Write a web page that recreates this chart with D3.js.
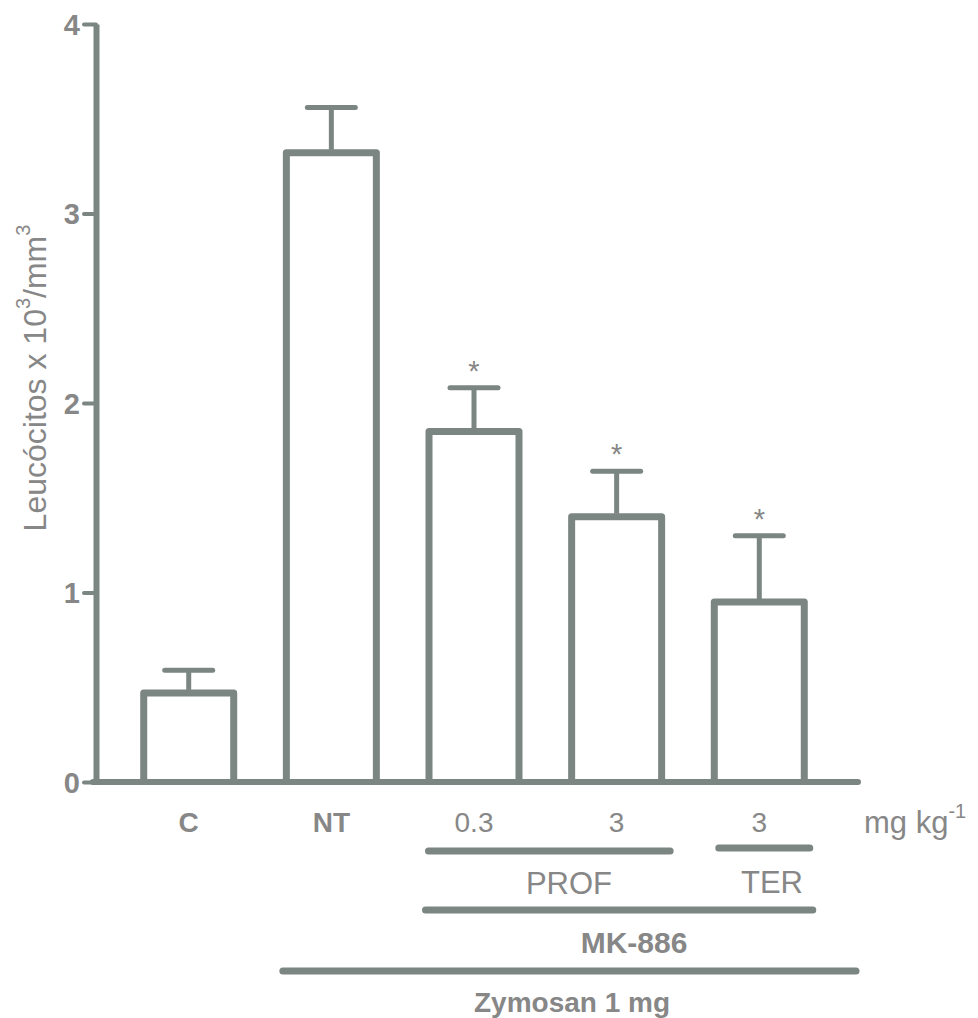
<!DOCTYPE html>
<html>
<head>
<meta charset="utf-8">
<script src="https://cdn.jsdelivr.net/npm/d3@7"></script>
<style>
  html, body { margin: 0; padding: 0; background: #fff; }
  svg { display: block; }
  text { font-family: "Liberation Sans", Arial, sans-serif; fill: #878787; }
</style>
</head>
<body>
<div id="chart"></div>
<script>
// ---- data ----
const categories = ["C", "NT", "PROF 0.3", "PROF 3", "TER 3"];
const tickLabels = ["C", "NT", "0.3", "3", "3"];
const tickBold = [true, true, false, false, false];
const means = [0.47, 3.32, 1.85, 1.40, 0.95];
const sem = [0.12, 0.24, 0.23, 0.24, 0.35];
const significant = [false, false, true, true, true];
const yTicks = [0, 1, 2, 3, 4];
const groupLabels = ["PROF", "TER", "MK-886", "Zymosan 1 mg"];
const groupFrom = ["PROF 0.3", "TER 3", "PROF 0.3", "NT"];
const groupTo = ["PROF 3", "TER 3", "TER 3", "TER 3"];

// ---- layout ----
const W = 978, H = 1018;
const LINE = "#7b8683";
const TEXT = "#878787";

const svg = d3.select("#chart").append("svg").attr("width", W).attr("height", H);

const x = d3.scaleBand().domain(categories).range([96, 852]).paddingInner(0.32).paddingOuter(0.31);
const y = d3.scaleLinear().domain([0, 4]).range([782, 24]);

// y axis
const yAxis = d3.axisLeft(y).tickValues(yTicks).tickSize(12).tickSizeOuter(0).tickPadding(4).tickFormat(d3.format("d"));
const gy = svg.append("g").attr("transform", "translate(96,0)").call(yAxis);
gy.select(".domain").attr("stroke", LINE).attr("stroke-width", 6);
gy.selectAll(".tick line").attr("stroke", LINE).attr("stroke-width", 4).attr("stroke-linecap", "round");
gy.selectAll(".tick text")
  .attr("fill", TEXT).style("font-size", "29px").style("font-weight", "bold")
  .attr("dy", "0.36em");

// bars
const bw = x.bandwidth();
const bars = svg.append("g");
bars.selectAll("path.bar").data(categories).join("path")
  .attr("class", "bar")
  .attr("d", (c, i) => {
    const x0 = x(c) + 3.5, x1 = x(c) + bw - 3.5, yt = y(means[i]), yb = y(0);
    return `M${x0},${yb}V${yt}H${x1}V${yb}`;
  })
  .attr("fill", "#fff").attr("stroke", LINE).attr("stroke-width", 7).attr("stroke-linejoin", "round");

// error bars
const err = svg.append("g");
err.selectAll("line.v").data(categories).join("line")
  .attr("x1", c => x(c) + bw / 2).attr("x2", c => x(c) + bw / 2)
  .attr("y1", (c, i) => y(means[i]) - 3).attr("y2", (c, i) => y(means[i] + sem[i]))
  .attr("stroke", LINE).attr("stroke-width", 5);
err.selectAll("line.cap").data(categories).join("line")
  .attr("x1", c => x(c) + bw / 2 - 24).attr("x2", c => x(c) + bw / 2 + 24)
  .attr("y1", (c, i) => y(means[i] + sem[i])).attr("y2", (c, i) => y(means[i] + sem[i]))
  .attr("stroke", LINE).attr("stroke-width", 5).attr("stroke-linecap", "round");

// significance stars
svg.append("g").selectAll("text").data(categories.filter((c, i) => significant[i])).join("text")
  .attr("x", c => x(c) + bw / 2)
  .attr("y", c => { const i = categories.indexOf(c); return y(means[i] + sem[i]) - 7; })
  .attr("text-anchor", "middle").style("font-size", "29px")
  .text("*");

// x axis line
svg.append("line").attr("x1", 93).attr("x2", 858).attr("y1", y(0)).attr("y2", y(0))
  .attr("stroke", LINE).attr("stroke-width", 6).attr("stroke-linecap", "round");

// category labels
svg.append("g").selectAll("text").data(categories).join("text")
  .attr("x", c => x(c) + bw / 2).attr("y", 832)
  .attr("text-anchor", "middle").style("font-size", "28px")
  .style("font-weight", (c, i) => tickBold[i] ? "bold" : "normal")
  .text((c, i) => tickLabels[i]);

// unit label
const unit = svg.append("text").attr("x", 864).attr("y", 833).style("font-size", "31px");
unit.append("tspan").text("mg kg");
unit.append("tspan").attr("dy", -15).style("font-size", "20px").text("-1");

// group brackets
const lineY = [851, 848, 910, 971];
const labelY = [894, 893, 953, 1012];
const labelX = [569, 772, 634, 572];
const extL = [3, 8, 0, 0];
const extR = [5, 2, 5, 0];
const gGroups = svg.append("g");
groupLabels.forEach((lab, i) => {
  const xs = x(groupFrom[i]) + extL[i];
  const xe = lab === "Zymosan 1 mg" ? 856 : x(groupTo[i]) + bw + extR[i];
  gGroups.append("line").attr("x1", xs).attr("x2", xe).attr("y1", lineY[i]).attr("y2", lineY[i])
    .attr("stroke", LINE).attr("stroke-width", 7).attr("stroke-linecap", "round");
  gGroups.append("text").attr("x", labelX[i]).attr("y", labelY[i]).attr("text-anchor", "middle")
    .style("font-size", i < 2 ? "31px" : (i === 2 ? "30px" : "28px"))
    .style("font-weight", i >= 2 ? "bold" : "normal")
    .text(lab);
});

// y title
const yt = svg.append("text").attr("transform", "translate(46,378) rotate(-90)")
  .attr("text-anchor", "middle").style("font-size", "32px");
yt.append("tspan").text("Leucócitos x 10");
yt.append("tspan").attr("dy", -16).style("font-size", "20px").text("3");
yt.append("tspan").attr("dy", 16).text("/mm");
yt.append("tspan").attr("dy", -16).style("font-size", "20px").text("3");
</script>
</body>
</html>
